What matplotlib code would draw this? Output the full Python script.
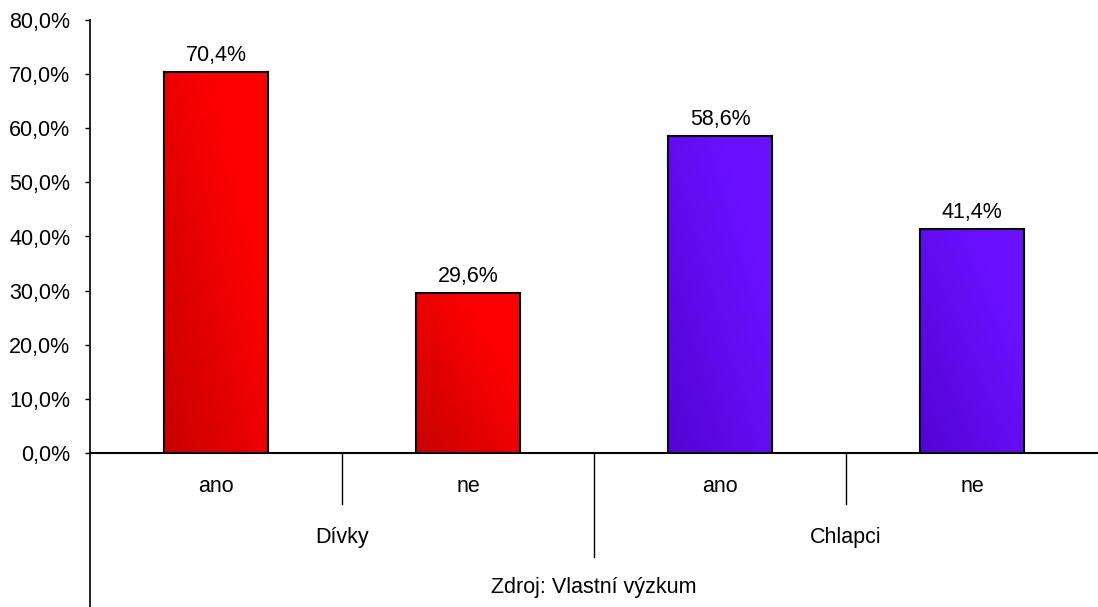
import matplotlib
matplotlib.use("Agg")
import matplotlib.pyplot as plt
import numpy as np
from matplotlib.colors import LinearSegmentedColormap
from matplotlib.lines import Line2D
import matplotlib.transforms as mtransforms

groups = ["Dívky", "Chlapci"]
answers = ["ano", "ne", "ano", "ne"]
values = [70.4, 29.6, 58.6, 41.4]
value_labels = ["70,4%", "29,6%", "58,6%", "41,4%"]
yticks = [0, 10, 20, 30, 40, 50, 60, 70, 80]
ytick_labels = ["0,0%", "10,0%", "20,0%", "30,0%", "40,0%", "50,0%", "60,0%", "70,0%", "80,0%"]
source = "Zdroj: Vlastní výzkum"
group_colors = [("#B00000", "#FF0000"), ("#4800C0", "#6A10FF")]

plt.rcParams['font.family'] = ['Liberation Sans', 'DejaVu Sans']
FS = 15.5
W, H = 1098, 607
fig = plt.figure(figsize=(W / 100, H / 100), dpi=100)
left, right, top, zero = 90, 1098, 20, 453
ax = fig.add_axes([left / W, 1 - zero / H, (right - left) / W, (zero - top) / H])

n = len(values)
bw = 0.41
xs = np.arange(n) + 0.5

for i, (x, v) in enumerate(zip(xs, values)):
    dark, light = group_colors[i // 2]
    cmap = LinearSegmentedColormap.from_list("g", [dark, light])
    gx = np.linspace(0, 1, 100)
    gy = np.linspace(0, 1, 200)
    GX, GY = np.meshgrid(gx, gy)
    grad = np.clip(0.3 + 0.5 * GX + 0.45 * GY, 0, 1)
    im = ax.imshow(grad, cmap=cmap, vmin=0, vmax=1, origin="lower",
                   extent=[x - bw / 2, x + bw / 2, 0, v], aspect="auto", zorder=2)
    rect = plt.Rectangle((x - bw / 2, 0), bw, v, facecolor="none",
                         edgecolor="black", linewidth=1.5, zorder=3)
    ax.add_patch(rect)
    im.set_clip_path(rect)
    ax.text(x, v + 1.1, value_labels[i], ha="center", va="bottom", fontsize=FS)

ax.set_xlim(0, n)
ax.set_ylim(0, 80)

for s in ["top", "right"]:
    ax.spines[s].set_visible(False)
ax.spines["bottom"].set_linewidth(1.5)
ax.spines["left"].set_visible(False)
ax.set_xticks([])
ax.set_yticks(yticks)
ax.set_yticklabels(ytick_labels, fontsize=FS)
ax.tick_params(axis="y", length=3.6, width=1, pad=10.5)

# extended y axis line
fig.add_artist(Line2D([left / W, left / W], [0, 1 - top / H], color="black", lw=1.2))

trans = mtransforms.blended_transform_factory(ax.transData, fig.transFigure)
# separators
for xb, yb in [(1, 504), (3, 504), (2, 557)]:
    ax.add_artist(Line2D([xb, xb], [1 - zero / H, 1 - yb / H], color="black",
                         lw=1, transform=trans, clip_on=False))
# category labels
for x, a in zip(xs, answers):
    ax.text(x, 1 - 487 / H, a, transform=trans, ha="center", va="center", fontsize=FS)
for gi, g in enumerate(groups):
    ax.text(gi * 2 + 1, 1 - 537 / H, g, transform=trans, ha="center", va="center", fontsize=FS)
ax.text(2, 1 - 588 / H, source, transform=trans, ha="center", va="center", fontsize=FS)

fig.savefig("out.png", dpi=100)
